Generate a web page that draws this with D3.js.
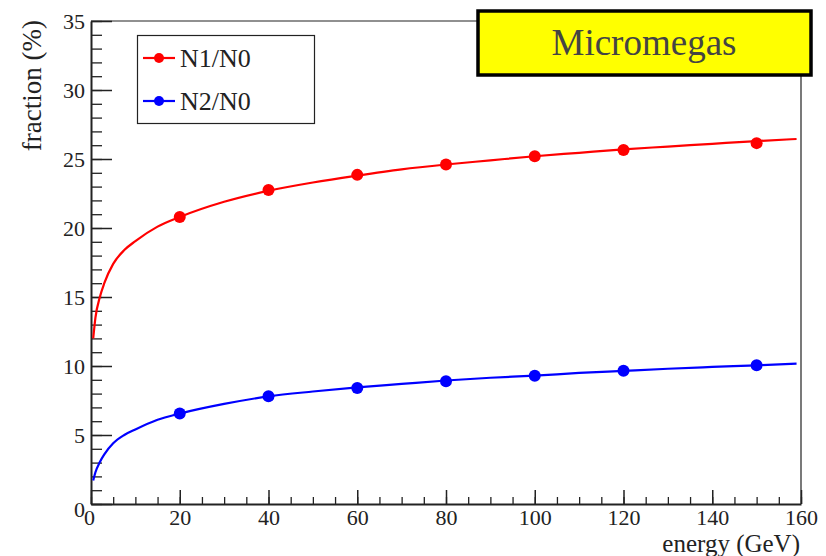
<!DOCTYPE html>
<html>
<head>
<meta charset="utf-8">
<script src="https://cdn.jsdelivr.net/npm/d3@7"></script>
<style>
  body { margin: 0; background: #fff; }
  svg { display: block; }
</style>
</head>
<body>
<svg id="plotSVG" width="826" height="556"></svg>
<script>
// measured points
let energy = [20, 40, 60, 80, 100, 120, 150]
let n1n0 = [20.8, 22.75, 23.85, 24.6, 25.2, 25.65, 26.15]
let n2n0 = [6.55, 7.8, 8.4, 8.9, 9.3, 9.65, 10.05]

// fitted curves
let fitEnergy = [0.5, 1, 2, 3, 5, 7.5, 10, 15, 20, 30, 40, 50, 60, 70, 80, 90, 100, 110, 120, 130, 140, 150, 159]
let fitN1 = [12.0, 13.5, 15.0, 16.0, 17.4, 18.4, 19.05, 20.1, 20.8, 21.9, 22.7, 23.3, 23.8, 24.25, 24.6, 24.9, 25.2, 25.45, 25.7, 25.9, 26.1, 26.3, 26.45]
let fitN2 = [1.7, 2.3, 3.05, 3.6, 4.4, 5.0, 5.4, 6.1, 6.55, 7.25, 7.8, 8.15, 8.45, 8.7, 8.95, 9.15, 9.3, 9.5, 9.65, 9.8, 9.93, 10.05, 10.17]

let xTicks = [0, 20, 40, 60, 80, 100, 120, 140, 160]
let yTicks = [0, 5, 10, 15, 20, 25, 30, 35]

let plotLeft = 91, plotRight = 801, plotTop = 21, plotBottom = 504
let serif = "'Liberation Serif', 'Times New Roman', serif"
let ink = "#222"

let svg = d3.select("#plotSVG")

svg.append("rect").attr("width", 826).attr("height", 556).attr("fill", "#fff")

let xScale = d3.scaleLinear().domain([0, 160]).range([plotLeft, plotRight])
let yScale = d3.scaleLinear().domain([0, 35]).range([plotBottom, plotTop])

// frame top/right
svg.append("path")
    .attr("d", `M${plotLeft},${plotTop}H${plotRight}V${plotBottom}`)
    .attr("fill", "none")
    .attr("stroke", ink)
    .attr("stroke-width", 1.2)

// minor ticks
svg.append("g")
    .attr("transform", `translate(0,${plotBottom})`)
    .call(d3.axisBottom(xScale).tickValues(d3.range(0, 161, 5)).tickSize(-7).tickFormat(""))
    .call(g => g.select(".domain").remove())
    .selectAll("line").attr("stroke", ink).attr("stroke-width", 1.3)
svg.append("g")
    .attr("transform", `translate(${plotLeft},0)`)
    .call(d3.axisLeft(yScale).tickValues(d3.range(0, 36, 1)).tickSize(-11).tickFormat(""))
    .call(g => g.select(".domain").remove())
    .selectAll("line").attr("stroke", ink).attr("stroke-width", 1.3)

// x axis
let xAxis = svg.append("g")
    .attr("transform", `translate(0,${plotBottom})`)
    .call(d3.axisBottom(xScale).tickValues(xTicks).tickSize(-14).tickPadding(5).tickSizeOuter(0))
xAxis.select(".domain").attr("stroke", ink).attr("stroke-width", 2)
xAxis.selectAll("line").attr("stroke", ink).attr("stroke-width", 1.5)
xAxis.selectAll("text")
    .style("font-family", serif).style("font-size", "22px").attr("fill", ink)
    .attr("dx", d => d === 0 ? -2 : 0)

// y axis
let yAxis = svg.append("g")
    .attr("transform", `translate(${plotLeft},0)`)
    .call(d3.axisLeft(yScale).tickValues(yTicks).tickSize(-21).tickPadding(6).tickSizeOuter(0))
yAxis.select(".domain").attr("stroke", ink).attr("stroke-width", 2)
yAxis.selectAll("line").attr("stroke", ink).attr("stroke-width", 1.5)
yAxis.selectAll("text")
    .style("font-family", serif).style("font-size", "22px").attr("fill", ink)
    .attr("dy", d => d === 0 ? "0.55em" : "0.32em")

// axis titles
svg.append("text")
    .attr("x", 800).attr("y", 552)
    .attr("text-anchor", "end")
    .style("font-family", serif).style("font-size", "25px").attr("fill", ink)
    .text("energy (GeV)")
svg.append("text")
    .attr("transform", "translate(41,20) rotate(-90)")
    .attr("text-anchor", "end")
    .style("font-family", serif).style("font-size", "27px").attr("fill", ink)
    .text("fraction (%)")

// curves and points
let series = [
    {name: "N1/N0", color: "#ff0000", fit: fitN1, pts: n1n0},
    {name: "N2/N0", color: "#0000ff", fit: fitN2, pts: n2n0}
]
let line = d3.line()
    .x(d => xScale(d[0]))
    .y(d => yScale(d[1]))
    .curve(d3.curveMonotoneX)

series.forEach(s => {
    svg.append("path")
        .datum(fitEnergy.map((e, i) => [e, s.fit[i]]))
        .attr("d", line)
        .attr("fill", "none")
        .attr("stroke", s.color)
        .attr("stroke-width", 2.2)
    svg.selectAll(null)
        .data(energy.map((e, i) => [e, s.pts[i]]))
        .join("circle")
        .attr("cx", d => xScale(d[0]))
        .attr("cy", d => yScale(d[1]))
        .attr("r", 6)
        .attr("fill", s.color)
})

// legend
let legend = svg.append("g")
legend.append("rect")
    .attr("x", 137.5).attr("y", 35.5).attr("width", 177).attr("height", 88)
    .attr("fill", "#fff").attr("stroke", ink).attr("stroke-width", 1.2)
series.forEach((s, i) => {
    let cy = 58 + i * 43
    legend.append("line")
        .attr("x1", 143).attr("x2", 175).attr("y1", cy).attr("y2", cy)
        .attr("stroke", s.color).attr("stroke-width", 2.2)
    legend.append("circle").attr("cx", 159).attr("cy", cy).attr("r", 5).attr("fill", s.color)
    legend.append("text")
        .attr("x", 180).attr("y", cy + 9)
        .style("font-family", serif).style("font-size", "26px").attr("fill", ink)
        .text(s.name)
})

// title box
svg.append("rect")
    .attr("x", 478).attr("y", 11).attr("width", 333).attr("height", 64)
    .attr("fill", "#ffff00").attr("stroke", "#000").attr("stroke-width", 3.5)
svg.append("text")
    .attr("x", 644).attr("y", 55)
    .attr("text-anchor", "middle")
    .style("font-family", serif).style("font-size", "37px").attr("fill", "#444")
    .text("Micromegas")
</script>
</body>
</html>
